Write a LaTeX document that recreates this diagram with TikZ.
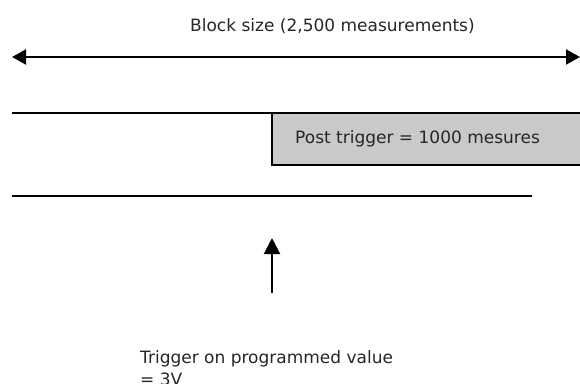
\documentclass[tikz,border=0pt]{standalone}
\usepackage{fontspec}
\setmainfont{DejaVu Sans}
\usetikzlibrary{arrows.meta}
\begin{document}
\begin{tikzpicture}[x=1pt,y=-1pt,
  lbl/.style={inner sep=0pt, anchor=base west, align=left,
    font=\fontsize{17}{22}\selectfont, text=black!85},
  rule/.style={line width=2pt, black},
  postbox/.style={draw=black, line width=1.5pt, fill=black!21}
]
\useasboundingbox (0,0) rectangle (580,383);
% block size arrow
\node[lbl] (title) at (190,31) {Block size (2,500 measurements)};
\coordinate (aL) at (12,57);
\coordinate (aR) at (580,57);
\draw[rule, {Triangle[length=14pt,width=15pt]}-{Triangle[length=14pt,width=15pt]}] (aL) -- (aR);
% upper trace with post trigger box
\coordinate (t1L) at (12,113);
\coordinate (t1M) at (272,113);
\draw[rule] (t1L) -- (t1M);
\draw[postbox] (272,113) rectangle (584,165);
\node[lbl] (post) at (295,143) {Post trigger = 1000 mesures};
% lower trace
\coordinate (t2L) at (12,196);
\coordinate (t2R) at (532,196);
\draw[rule] (t2L) -- (t2R);
% trigger arrow
\coordinate (trB) at (272,293);
\coordinate (trT) at (272,238);
\draw[line width=2pt, -{Triangle[length=16pt,width=16pt]}] (trB) -- (trT);
\node[lbl] (trig) at (140,385) {Trigger on programmed value\\= 3V};
\end{tikzpicture}
\end{document}
